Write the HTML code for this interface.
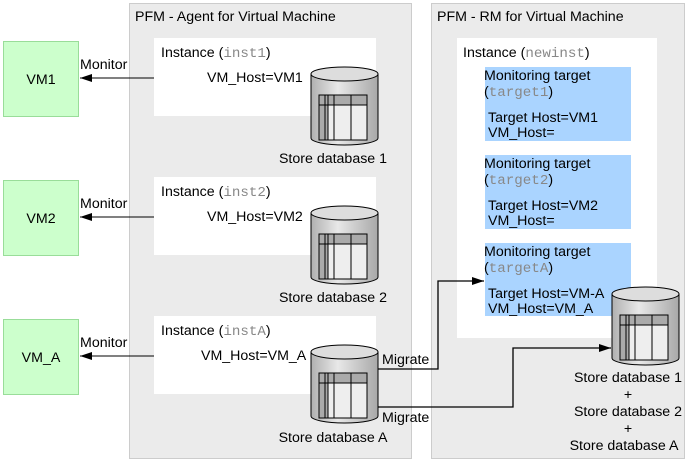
<!DOCTYPE html>
<html><head><meta charset="utf-8"><style>
html,body{margin:0;padding:0;background:#fff;}
svg{display:block;font-family:"Liberation Sans",sans-serif;font-size:14.2px;}
.m{font-family:"Liberation Mono",monospace;fill:#888;}
</style></head><body>
<svg width="687" height="460" viewBox="0 0 687 460" xmlns="http://www.w3.org/2000/svg">
<defs>
<linearGradient id="cg" x1="0" x2="1"><stop offset="0" stop-color="#b0b0b0"/><stop offset="0.4" stop-color="#e8e8e8"/><stop offset="1" stop-color="#a8a8a8"/></linearGradient>
<g id="cyl">
<path d="M0,7 L0,71 A33.5,7 0 0 0 67,71 L67,7" fill="url(#cg)" stroke="#000"/>
<ellipse cx="33.5" cy="7" rx="33.5" ry="7" fill="#ddd" stroke="#000"/>
<rect x="8" y="28" width="48" height="45" fill="#eee" stroke="#000"/>
<rect x="8" y="28" width="48" height="10" fill="#aaa" stroke="#000"/>
<rect x="8" y="28" width="9" height="45" fill="#aaa" stroke="#000"/>
<line x1="14" y1="28" x2="14" y2="73" stroke="#000"/>
<line x1="23" y1="28" x2="23" y2="73" stroke="#000"/>
<line x1="40" y1="28" x2="40" y2="73" stroke="#000"/>
<line x1="8" y1="38" x2="56" y2="38" stroke="#000"/>
</g>
<marker id="ah" markerWidth="12" markerHeight="8" refX="12" refY="4" orient="auto" markerUnits="userSpaceOnUse"><path d="M0,0 L12,4 L0,8z" fill="#000"/></marker>
</defs>
<rect x="129.5" y="3.5" width="282" height="455" fill="#ebebeb" stroke="#ccc"/>
<rect x="431.5" y="3.5" width="253" height="455" fill="#ebebeb" stroke="#ccc"/>
<text x="135" y="21">PFM - Agent for Virtual Machine</text>
<text x="437" y="21">PFM - RM for Virtual Machine</text>

<rect x="3.5" y="41.5" width="75" height="75" fill="#ccffcc" stroke="#99dd99"/>
<rect x="3.5" y="180.5" width="75" height="75" fill="#ccffcc" stroke="#99dd99"/>
<rect x="3.5" y="319.5" width="75" height="75" fill="#ccffcc" stroke="#99dd99"/>
<text x="41" y="84" text-anchor="middle">VM1</text>
<text x="41" y="223" text-anchor="middle">VM2</text>
<text x="41" y="362" text-anchor="middle">VM_A</text>

<rect x="154" y="38" width="222" height="78" fill="#fff"/>
<rect x="154" y="177" width="222" height="78" fill="#fff"/>
<rect x="154" y="316" width="222" height="78" fill="#fff"/>
<text x="161" y="57">Instance (<tspan class="m">inst1</tspan>)</text>
<text x="207" y="82">VM_Host=VM1</text>
<text x="161" y="196">Instance (<tspan class="m">inst2</tspan>)</text>
<text x="207" y="221">VM_Host=VM2</text>
<text x="161" y="335">Instance (<tspan class="m">instA</tspan>)</text>
<text x="201" y="360">VM_Host=VM_A</text>

<line x1="154" y1="78" x2="80" y2="78" stroke="#000" marker-end="url(#ah)"/>
<line x1="154" y1="217" x2="80" y2="217" stroke="#000" marker-end="url(#ah)"/>
<line x1="154" y1="356" x2="80" y2="356" stroke="#000" marker-end="url(#ah)"/>
<text x="80" y="69">Monitor</text>
<text x="80" y="208">Monitor</text>
<text x="80" y="347">Monitor</text>

<use href="#cyl" x="311" y="67"/>
<use href="#cyl" x="311" y="206"/>
<use href="#cyl" x="311" y="345"/>
<text x="333" y="163" text-anchor="middle">Store database 1</text>
<text x="333" y="302" text-anchor="middle">Store database 2</text>
<text x="333" y="442" text-anchor="middle">Store database A</text>

<rect x="457" y="38" width="200" height="300" fill="#fff"/>
<text x="463" y="57">Instance (<tspan class="m">newinst</tspan>)</text>
<rect x="485" y="67" width="146" height="74" fill="#aad4ff"/>
<rect x="485" y="155" width="146" height="74" fill="#aad4ff"/>
<rect x="485" y="243" width="146" height="73" fill="#aad4ff"/>
<text x="484" y="80">Monitoring target</text>
<text x="484" y="96">(<tspan class="m">target1</tspan>)</text>
<text x="488" y="122">Target Host=VM1</text>
<text x="488" y="137">VM_Host=</text>
<text x="484" y="168">Monitoring target</text>
<text x="484" y="184">(<tspan class="m">target2</tspan>)</text>
<text x="488" y="210">Target Host=VM2</text>
<text x="488" y="225">VM_Host=</text>
<text x="484" y="256">Monitoring target</text>
<text x="484" y="272">(<tspan class="m">targetA</tspan>)</text>
<text x="488" y="298">Target Host=VM-A</text>
<text x="488" y="313">VM_Host=VM_A</text>

<use href="#cyl" x="612" y="287"/>
<text x="628" y="382" text-anchor="middle">Store database 1</text>
<text x="628" y="399" text-anchor="middle">+</text>
<text x="628" y="416" text-anchor="middle">Store database 2</text>
<text x="628" y="433" text-anchor="middle">+</text>
<text x="624" y="450" text-anchor="middle">Store database A</text>

<polyline points="378,369 438,369 438,281 484,281" fill="none" stroke="#000" stroke-width="1.3" marker-end="url(#ah)"/>
<polyline points="378,407 513,407 513,348 611,348" fill="none" stroke="#000" stroke-width="1.3" marker-end="url(#ah)"/>
<text x="382" y="364">Migrate</text>
<text x="382" y="422">Migrate</text>
</svg>
</body></html>
